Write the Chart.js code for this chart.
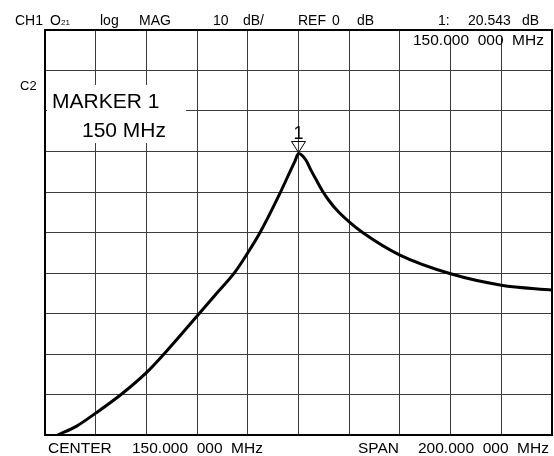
<!DOCTYPE html>
<html>
<head>
<meta charset="utf-8">
<script src="https://cdn.jsdelivr.net/npm/chart.js@4.4.0/dist/chart.umd.min.js"></script>
<style>
    body { margin: 0; background: #fff; }
    #wrap { width: 554px; height: 456px; position: relative; }
</style>
</head>
<body>
<div id="wrap"><canvas id="trace"></canvas></div>
<script>
// Frequency sweep (MHz) and S21 magnitude (dB)
const freqMHz = [55, 62.5, 70, 80, 90, 96.5, 110, 118, 125, 130, 135, 143, 146.7, 148.6, 150,
                 152.9, 154.9, 157, 159.7, 162, 165, 170, 175, 190, 210, 230, 250];
const magDB   = [-50, -47.8, -44.6, -40, -34.6, -30.3, -20.6, -14.8, -9.7, -5, 0.2, 10.1, 15.1, 17.6, 19.5,
                 17.9, 15.4, 13, 10, 7.9, 5.6, 2.6, 0.1, -5.6, -10.2, -13, -14.2];

// Axis ranges: center 150 MHz, span 200 MHz, 10 dB/div
const xRange = [50, 250];
const yRange = [-50, 50];

// Screen annotations
const headerLabels = ['CH1', 'O', '21', 'log', 'MAG', '10', 'dB/', 'REF', '0', 'dB', '1:', '20.543', 'dB'];
const markerLabels = ['MARKER 1', '150 MHz'];
const markerFreq = '150.000  000  MHz';
const footerLabels = ['CENTER', '150.000  000  MHz', 'SPAN', '200.000  000  MHz'];
const channelLabel = 'C2';
const markerNo = '1';

const FONT = '"Liberation Sans", Arial, sans-serif';

// x positions for the header line
const headerX = [15, 50, 61, 100, 139, 213, 243, 298, 332, 357, 438, 468, 522];

const overlay = {
    id: 'overlay',
    beforeDatasetsDraw(chart) {
        const c = chart.ctx;
        c.save();
        c.fillStyle = '#fff';
        // marker readout box over the grid
        c.fillRect(47, 85, 139, 58);
        // strip under marker frequency
        c.fillRect(403, 31, 148, 7);
        c.restore();
    },
    afterDraw(chart) {
        const c = chart.ctx;
        const a = chart.chartArea;
        c.save();
        // frame
        c.strokeStyle = '#000';
        c.lineWidth = 2;
        c.strokeRect(a.left, a.top, a.right - a.left, a.bottom - a.top);

        c.fillStyle = '#000';
        c.textBaseline = 'alphabetic';
        c.textAlign = 'left';

        // header line
        headerLabels.forEach((t, i) => {
            c.font = (i === 2 ? '8px ' : '14px ') + FONT;
            c.fillText(t, headerX[i], 25);
        });

        c.font = '13px ' + FONT;
        c.fillText(channelLabel, 20, 90);

        c.font = '15.5px ' + FONT;
        c.fillText(markerFreq, 413, 45);

        // marker box text
        c.font = '21px ' + FONT;
        c.fillText(markerLabels[0], 52, 108);
        c.fillText(markerLabels[1], 82, 137);

        // footer
        c.font = '15.5px ' + FONT;
        c.fillText(footerLabels[0], 48, 453);
        c.fillText(footerLabels[1], 132, 453);
        c.fillText(footerLabels[2], 358, 453);
        c.fillText(footerLabels[3], 418, 453);

        // marker triangle at the peak
        const peak = magDB.indexOf(Math.max(...magDB));
        const px = chart.scales.x.getPixelForValue(freqMHz[peak]);
        const py = chart.scales.y.getPixelForValue(magDB[peak]);
        c.lineWidth = 1;
        c.strokeStyle = '#000';
        c.beginPath();
        c.moveTo(px - 7, py - 12);
        c.lineTo(px + 7, py - 12);
        c.lineTo(px, py - 1);
        c.closePath();
        c.stroke();
        c.font = '18px ' + FONT;
        c.textAlign = 'center';
        c.fillText(markerNo, px, py - 15);
        c.restore();
    }
};

document.addEventListener('DOMContentLoaded', function() {
    const ctx = document.getElementById('trace').getContext('2d');
    const points = freqMHz.map((f, i) => ({ x: f, y: magDB[i] }));

    new Chart(ctx, {
        type: 'line',
        data: {
            datasets: [{
                data: points,
                borderColor: '#000',
                borderWidth: 3,
                pointRadius: 0,
                cubicInterpolationMode: 'monotone',
                fill: false
            }]
        },
        options: {
            responsive: true,
            maintainAspectRatio: false,
            devicePixelRatio: 1,
            animation: false,
            layout: {
                padding: { left: 45, top: 30, right: 2, bottom: 21 }
            },
            plugins: {
                legend: { display: false },
                tooltip: { enabled: false }
            },
            scales: {
                x: {
                    type: 'linear',
                    min: xRange[0],
                    max: xRange[1],
                    ticks: { display: false, stepSize: 20 },
                    grid: { color: '#3c3c3c', lineWidth: 1, drawTicks: false },
                    border: { display: false }
                },
                y: {
                    min: yRange[0],
                    max: yRange[1],
                    ticks: { display: false, stepSize: 10 },
                    grid: { color: '#3c3c3c', lineWidth: 1, drawTicks: false },
                    border: { display: false }
                }
            }
        },
        plugins: [overlay]
    });
});
</script>
</body>
</html>
